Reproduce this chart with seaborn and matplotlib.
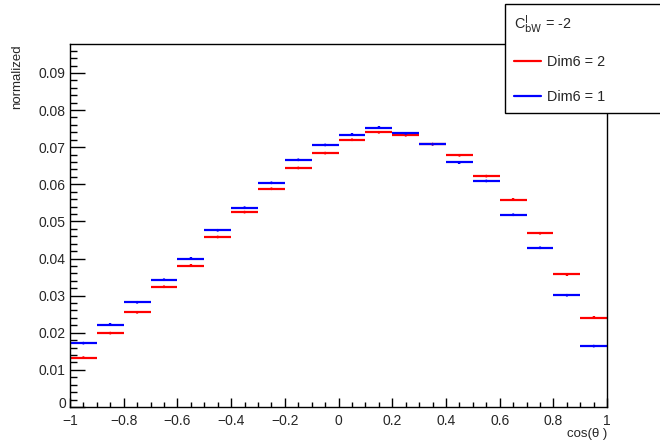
import numpy as np
import pandas as pd
import matplotlib
matplotlib.use("Agg")
import matplotlib.pyplot as plt
import matplotlib.transforms as mtransforms
from matplotlib.lines import Line2D
from matplotlib.ticker import MultipleLocator
import seaborn as sns

# bin edges of cos(theta), 20 bins
bin_edges = np.linspace(-1, 1, 21)

dim6_2 = [0.0133, 0.0199, 0.0255, 0.0324, 0.0381, 0.0458, 0.0525, 0.0588, 0.0644, 0.0684,
          0.0720, 0.0740, 0.0732, 0.0708, 0.0678, 0.0622, 0.0559, 0.0468, 0.0357, 0.0241]
dim6_1 = [0.0172, 0.0222, 0.0282, 0.0343, 0.0400, 0.0476, 0.0537, 0.0604, 0.0666, 0.0706,
          0.0734, 0.0753, 0.0737, 0.0708, 0.0659, 0.0609, 0.0518, 0.0429, 0.0301, 0.0164]
err = 0.0003

sns.set_style("ticks")
plt.rcParams["font.family"] = ["Liberation Sans", "DejaVu Sans"]

centers = (bin_edges[:-1] + bin_edges[1:]) / 2
half_w = np.diff(bin_edges) / 2

df = pd.DataFrame({
    "x": np.concatenate([centers, centers]),
    "y": np.concatenate([dim6_2, dim6_1]),
    "series": ["Dim6 = 2"] * 20 + ["Dim6 = 1"] * 20,
})
colors = {"Dim6 = 2": "#ff0000", "Dim6 = 1": "#0000ff"}

fig = plt.figure(figsize=(6.6, 4.43), dpi=100)
ax = fig.add_axes([0.106, 0.0813, 0.814, 0.8194])

for name in ["Dim6 = 2", "Dim6 = 1"]:
    d = df[df["series"] == name]
    ax.errorbar(d["x"], d["y"], xerr=half_w, yerr=err, fmt="none",
                ecolor=colors[name], elinewidth=1.6, capsize=0)
sns.scatterplot(data=df, x="x", y="y", hue="series", palette=colors, ax=ax,
                marker="o", s=4, edgecolor="none", legend=False, zorder=3)

ax.set_xlim(-1, 1)
ax.set_ylim(0, 0.0978)
ax.xaxis.set_minor_locator(MultipleLocator(0.05))
ax.yaxis.set_minor_locator(MultipleLocator(0.002))
ax.set_xticks(np.round(np.arange(-1, 1.01, 0.2), 1))
ax.set_xticklabels(["\u22121", "\u22120.8", "\u22120.6", "\u22120.4", "\u22120.2", "0",
                    "0.2", "0.4", "0.6", "0.8", "1"])
ax.set_yticks(np.round(np.arange(0, 0.091, 0.01), 2))
ax.set_yticklabels(["0"] + [f"{v:.2f}" for v in np.arange(0.01, 0.091, 0.01)])

ax.tick_params(which="both", direction="in", color="black", labelsize=10)
ax.tick_params(axis="x", which="major", length=6.5, width=1, pad=5)
ax.tick_params(axis="x", which="minor", length=3.6, width=1)
ax.tick_params(axis="y", which="major", length=11, width=1, pad=3)
ax.tick_params(axis="y", which="minor", length=5, width=1)
zero_lbl = ax.get_yticklabels()[0]
zero_lbl.set_transform(zero_lbl.get_transform() +
                       mtransforms.ScaledTranslation(0, 3 / 72, fig.dpi_scale_trans))
for s in ax.spines.values():
    s.set_color("black")
    s.set_linewidth(1)

ax.set_xlabel("cos(\u03b8 )", loc="right", fontsize=9.5, labelpad=0)
ax.set_ylabel("normalized", loc="top", fontsize=9.5, labelpad=11)

handles = [Line2D([], [], color=colors["Dim6 = 2"], lw=1.6),
           Line2D([], [], color=colors["Dim6 = 1"], lw=1.6)]
leg = fig.legend(handles, ["Dim6 = 2", "Dim6 = 1"],
                 title=r"C$^{\mathrm{l}}_{\mathrm{bW}}$ = -2",
                 loc="upper left", bbox_to_anchor=(0.765, 0.745, 0.26, 0.246),
                 mode="expand", alignment="left", frameon=True, fancybox=False,
                 edgecolor="black", framealpha=1, fontsize=10.4, title_fontsize=10.4,
                 handlelength=1.9, handletextpad=0.4, labelspacing=1.45,
                 borderpad=0.6, borderaxespad=0)
leg.get_frame().set_linewidth(1)
leg.set_zorder(10)

fig.savefig("out.png", dpi=100)
